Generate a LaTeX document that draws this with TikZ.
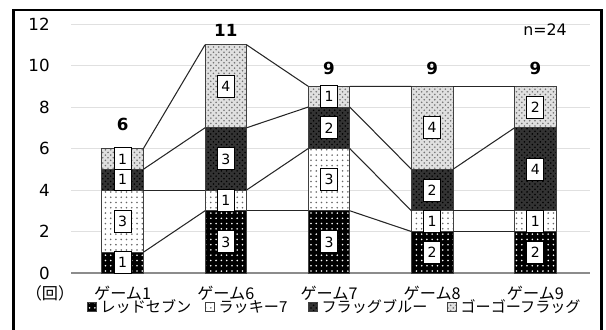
\documentclass[tikz,border=0pt]{standalone}
\usepackage{fontspec}
\setmainfont{DejaVu Sans}
\newfontfamily\jp{Noto Sans CJK JP}
\usetikzlibrary{patterns,positioning}

\begin{document}
\begin{tikzpicture}[x=0.02cm, y=0.02cm,
    bar/.style={draw=black!75, line width=0.4pt, inner sep=0pt, outer sep=0pt, minimum width=0.832cm, anchor=south},
    redseven/.style={bar, preaction={fill=black}, pattern=dots, pattern color=white},
    lucky/.style={bar, preaction={fill=white}, pattern=dots, pattern color=black!60},
    flagblue/.style={bar, preaction={fill=black!80}, pattern=crosshatch dots, pattern color=black},
    gogoflag/.style={bar, preaction={fill=black!12}, pattern=crosshatch dots, pattern color=black!55},
    h1/.style={minimum height=0.415cm},
    h2/.style={minimum height=0.83cm},
    h3/.style={minimum height=1.245cm},
    h4/.style={minimum height=1.66cm},
    numbox/.style={draw, fill=white, line width=0.5pt, inner sep=0pt, minimum width=0.34cm, minimum height=0.44cm, font=\fontsize{8}{8}\selectfont},
    total/.style={inner sep=0pt, font=\fontsize{9.5}{10}\selectfont\bfseries},
    ytick/.style={inner sep=0pt, anchor=east, font=\fontsize{9.5}{10}\selectfont},
    cat/.style={inner sep=0pt, font=\jp\fontsize{9.2}{10}\selectfont},
    key/.style={minimum width=0.19cm, minimum height=0.19cm, anchor=center},
    legtext/.style={inner sep=0pt, font=\jp\fontsize{8.6}{9}\selectfont},
    conn/.style={draw=black!85, line width=0.6pt},
    grid/.style={draw=black!12, line width=0.6pt}]
  \useasboundingbox (0,0) rectangle (606,329);
  \draw[line width=1.7pt] (13.8,-5) -- (13.8,319) -- (601.8,319) -- (601.8,-5);

  \begin{scope}[yshift=1.12cm, y=0.415cm]
    \foreach \k in {2,4,...,12}
      \draw[grid] (71,\k) -- (590,\k);
    \draw[draw=black!45, line width=0.6pt] (71,0) -- (590,0);
    \foreach \k in {0,2,...,12}
      \node[ytick] (y\k) at (50,\k) {\k};

    % game 1
    \node[redseven, h1] (g1a) at (122.6,0) {};
    \node[lucky, h3, above=0pt of g1a] (g1b) {};
    \node[flagblue, h1, above=0pt of g1b] (g1c) {};
    \node[gogoflag, h1, above=0pt of g1c] (g1d) {};
    % game 6
    \node[redseven, h3] (g6a) at (225.8,0) {};
    \node[lucky, h1, above=0pt of g6a] (g6b) {};
    \node[flagblue, h3, above=0pt of g6b] (g6c) {};
    \node[gogoflag, h4, above=0pt of g6c] (g6d) {};
    % game 7
    \node[redseven, h3] (g7a) at (329,0) {};
    \node[lucky, h3, above=0pt of g7a] (g7b) {};
    \node[flagblue, h2, above=0pt of g7b] (g7c) {};
    \node[gogoflag, h1, above=0pt of g7c] (g7d) {};
    % game 8
    \node[redseven, h2] (g8a) at (432.2,0) {};
    \node[lucky, h1, above=0pt of g8a] (g8b) {};
    \node[flagblue, h2, above=0pt of g8b] (g8c) {};
    \node[gogoflag, h4, above=0pt of g8c] (g8d) {};
    % game 9
    \node[redseven, h2] (g9a) at (535.4,0) {};
    \node[lucky, h1, above=0pt of g9a] (g9b) {};
    \node[flagblue, h4, above=0pt of g9b] (g9c) {};
    \node[gogoflag, h2, above=0pt of g9c] (g9d) {};

    \foreach \i/\j in {1/6,6/7,7/8,8/9}
      \foreach \s in {a,b,c,d}
        \draw[conn] (g\i\s.north east) -- (g\j\s.north west);

    \node[numbox] (n1a) at (g1a) {1};
    \node[numbox] (n1b) at (g1b) {3};
    \node[numbox] (n1c) at (g1c) {1};
    \node[numbox] (n1d) at (g1d) {1};
    \node[numbox] (n6a) at (g6a) {3};
    \node[numbox] (n6b) at (g6b) {1};
    \node[numbox] (n6c) at (g6c) {3};
    \node[numbox] (n6d) at (g6d) {4};
    \node[numbox] (n7a) at (g7a) {3};
    \node[numbox] (n7b) at (g7b) {3};
    \node[numbox] (n7c) at (g7c) {2};
    \node[numbox] (n7d) at (g7d) {1};
    \node[numbox] (n8a) at (g8a) {2};
    \node[numbox] (n8b) at (g8b) {1};
    \node[numbox] (n8c) at (g8c) {2};
    \node[numbox] (n8d) at (g8d) {4};
    \node[numbox] (n9a) at (g9a) {2};
    \node[numbox] (n9b) at (g9b) {1};
    \node[numbox] (n9c) at (g9c) {4};
    \node[numbox] (n9d) at (g9d) {2};

    \node[total] (t1) at (122.6,7.18) {6};
    \node[total] (t6) at (225.8,11.71) {11};
    \node[total] (t7) at (329,9.88) {9};
    \node[total] (t8) at (432.2,9.88) {9};
    \node[total] (t9) at (535.4,9.88) {9};
    \node[inner sep=0pt, font=\fontsize{9}{10}\selectfont] (n) at (545,11.71) {n=24};
  \end{scope}

  \node[cat] (unit) at (50,36) {（回）};
  \node[cat] (c1) at (122.6,36) {ゲーム1};
  \node[cat] (c6) at (225.8,36) {ゲーム6};
  \node[cat] (c7) at (329,36) {ゲーム7};
  \node[cat] (c8) at (432.2,36) {ゲーム8};
  \node[cat] (c9) at (535.4,36) {ゲーム9};

  \node[redseven, key] (k1) at (92,22) {};
  \node[legtext, right=2pt of k1] (l1) {レッドセブン};
  \node[lucky, key] (k2) at (210,22) {};
  \node[legtext, right=2pt of k2] (l2) {ラッキー7};
  \node[flagblue, key] (k3) at (313,22) {};
  \node[legtext, right=2pt of k3] (l3) {フラッグブルー};
  \node[gogoflag, key] (k4) at (452,22) {};
  \node[legtext, right=2pt of k4] (l4) {ゴーゴーフラッグ};
\end{tikzpicture}
\end{document}
